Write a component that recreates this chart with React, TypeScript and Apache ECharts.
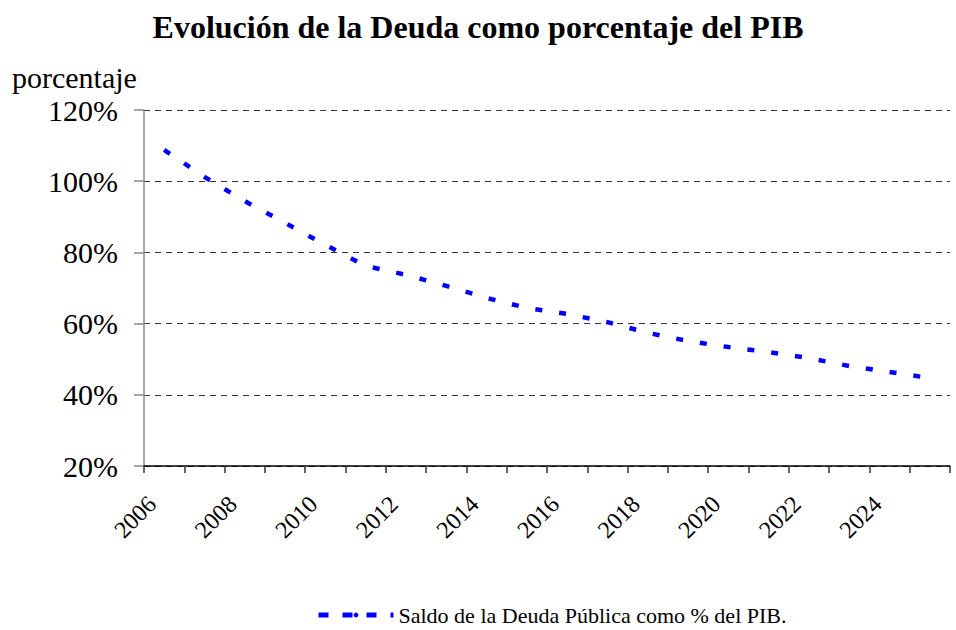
import React, { useEffect, useRef } from "react";
import * as echarts from "echarts";

const FONT = "Liberation Serif";

const titleText = "Evolución de la Deuda como porcentaje del PIB";
const yAxisTitle = "porcentaje";
const seriesName = "Saldo de la Deuda Pública como % del PIB.";

const years = [
  "2006", "2007", "2008", "2009", "2010", "2011", "2012", "2013", "2014", "2015",
  "2016", "2017", "2018", "2019", "2020", "2021", "2022", "2023", "2024", "2025",
];

const debtPct = [
  108.8, 101.2, 94.4, 88.3, 82.1, 76.2, 73.7, 70.6, 67.2, 64.4,
  62.7, 60.4, 57.4, 55.1, 53.4, 52.0, 50.3, 48.1, 46.4, 44.7,
];

const yMin = 20;
const yMax = 120;
const yStep = 20;

export default function App() {
  const ref = useRef<HTMLDivElement>(null);

  useEffect(() => {
    if (!ref.current) return;
    const chart = echarts.init(ref.current, null, { renderer: "svg" });
    chart.setOption({
      animation: false,
      backgroundColor: "#ffffff",
      title: {
        text: titleText,
        left: "center",
        top: 6,
        textStyle: { fontFamily: FONT, fontSize: 32, fontWeight: "bold", color: "#000" },
      },
      grid: { left: 144, right: 6, top: 110, bottom: 164, containLabel: false },
      legend: {
        left: 316,
        top: 604,
        padding: 0,
        itemWidth: 75,
        itemHeight: 6,
        lineStyle: { type: [10, 14], width: 5, color: "#0000ff" },
        textStyle: { fontFamily: FONT, fontSize: 22, color: "#000" },
        data: [seriesName],
      },
      xAxis: {
        type: "category",
        data: years,
        boundaryGap: true,
        axisLine: { lineStyle: { color: "#000", width: 1.5 } },
        axisTick: { show: true, interval: 0, length: 7, lineStyle: { color: "#333", width: 1.5 } },
        axisLabel: {
          interval: 1,
          rotate: 45,
          margin: 22,
          padding: [0, 17, 0, 0],
          fontSize: 24,
          fontFamily: FONT,
          color: "#000",
        },
        splitLine: { show: false },
      },
      yAxis: {
        type: "value",
        min: yMin,
        max: yMax,
        interval: yStep,
        axisLine: { show: true, lineStyle: { color: "#888", width: 1.5 } },
        axisTick: { show: true, length: 10, lineStyle: { color: "#888", width: 1.5 } },
        axisLabel: {
          formatter: "{value}%",
          fontSize: 30,
          margin: 26,
          fontFamily: FONT,
          color: "#000",
        },
        splitLine: { show: true, lineStyle: { type: [6, 5], color: "#333", width: 1 } },
      },
      graphic: [
        {
          type: "text",
          left: 12,
          top: 62,
          style: { text: yAxisTitle, fontSize: 30, fontFamily: FONT, fill: "#000" },
        },
      ],
      series: [
        {
          type: "line",
          name: seriesName,
          data: debtPct,
          symbol: "none",
          smooth: false,
          lineStyle: { color: "#0000ff", width: 4.5, type: [7, 17] },
          itemStyle: { color: "#0000ff" },
        },
      ],
    });
    return () => chart.dispose();
  }, []);

  return (
    <div
      ref={ref}
      style={{ position: "fixed", left: 0, top: 0, width: 956, height: 630, background: "#fff" }}
    />
  );
}
